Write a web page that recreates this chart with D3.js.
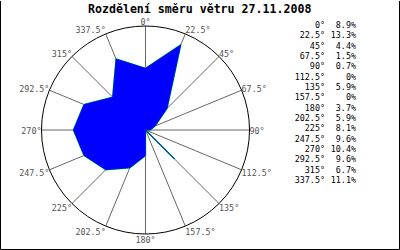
<!DOCTYPE html>
<html>
<head>
<meta charset="utf-8">
<script src="https://cdnjs.cloudflare.com/ajax/libs/d3/7.8.5/d3.min.js"></script>
<style>
  body { margin: 0; background: #fff; }
  svg { display: block; }
</style>
</head>
<body>
<div id="chart-area"></div>
<script>
//////////////////////////////////////////////
// Data //////////////////////////////////////
//////////////////////////////////////////////
var title = "Rozdělení směru větru 27.11.2008";

// wind direction (degrees) and share (%)
var angles = [0, 22.5, 45, 67.5, 90, 112.5, 135, 157.5,
              180, 202.5, 225, 247.5, 270, 292.5, 315, 337.5];
var shares = [8.9, 13.3, 4.4, 1.5, 0.7, 0, 5.9, 0,
              3.7, 5.9, 8.1, 9.6, 10.4, 9.6, 6.7, 11.1];
var shareLabels = ["8.9%", "13.3%", "4.4%", "1.5%", "0.7%", "0%", "5.9%", "0%",
                   "3.7%", "5.9%", "8.1%", "9.6%", "10.4%", "9.6%", "6.7%", "11.1%"];

var data = angles.map(function(a, i) {
    return {angle: a, share: shares[i], label: shareLabels[i]};
});

//////////////////////////////////////////////
// Chart Config //////////////////////////////
//////////////////////////////////////////////
var width = 400, height = 250;
var cx = 145.5, cy = 130, radius = 104;
var mono = "'DejaVu Sans Mono', 'Liberation Mono', monospace";

var rScale = d3.scaleLinear().domain([0, 15]).range([0, radius]);
var toRad = function(deg) { return deg * Math.PI / 180; };

var svg = d3.select("#chart-area")
    .append("svg")
        .attr("width", width)
        .attr("height", height);

svg.append("rect")
    .attr("width", width)
    .attr("height", height)
    .attr("fill", "#fff");

// frame (no top edge in the original)
svg.append("path")
    .attr("d", "M0.5,1 V249.5 H399.5 V1")
    .attr("fill", "none")
    .attr("stroke", "#000");

// title
svg.append("text")
    .attr("x", 199.7)
    .attr("y", 12.5)
    .attr("text-anchor", "middle")
    .style("font-family", mono)
    .style("font-weight", "bold")
    .style("font-size", "11.6px")
    .text(title);

var g = svg.append("g")
    .attr("transform", "translate(" + cx + "," + cy + ")");

//////////////////////////////////////////////
// Grid //////////////////////////////////////
//////////////////////////////////////////////
g.selectAll(".spoke")
    .data(angles)
    .enter().append("line")
        .attr("class", "spoke")
        .attr("x1", 0).attr("y1", 0)
        .attr("x2", function(a) { return Math.sin(toRad(a)) * radius; })
        .attr("y2", function(a) { return -Math.cos(toRad(a)) * radius; })
        .attr("stroke", "#666")
        .attr("stroke-width", 1);

g.append("circle")
    .attr("r", radius)
    .attr("fill", "none")
    .attr("stroke", "#000")
    .attr("stroke-width", 1);

//////////////////////////////////////////////
// Plot //////////////////////////////////////
//////////////////////////////////////////////
var radial = d3.lineRadial()
    .angle(function(d) { return toRad(d.angle); })
    .radius(function(d) { return rScale(d.share); })
    .curve(d3.curveLinearClosed);

g.append("path")
    .datum(data)
    .attr("d", radial)
    .attr("fill", "none")
    .attr("stroke", "#00ff00")
    .attr("stroke-width", 1.4);

g.append("path")
    .datum(data)
    .attr("d", radial)
    .attr("fill", "#0000ff")
    .attr("stroke", "#0000ff")
    .attr("stroke-width", 0.8);

// angle labels round the circle
g.selectAll(".alabel")
    .data(angles)
    .enter().append("text")
        .attr("class", "alabel")
        .attr("x", function(a) { return Math.sin(toRad(a)) * radius; })
        .attr("y", function(a) { return -Math.cos(toRad(a)) * radius - Math.cos(toRad(a)) * 5 + 3.8; })
        .attr("text-anchor", function(a) {
            if (a === 0 || a === 180) return "middle";
            return a < 180 ? "start" : "end";
        })
        .attr("fill", "#555")
        .style("font-family", mono)
        .style("font-size", "8.4px")
        .text(function(a) { return a + "°"; });

//////////////////////////////////////////////
// Legend ////////////////////////////////////
//////////////////////////////////////////////
var legend = svg.append("g")
    .style("font-family", mono)
    .style("font-size", "8.4px")
    .attr("fill", "#000");

var rowY = d3.scaleLinear().domain([0, 15]).range([28, 183]);

legend.selectAll(".lang")
    .data(data)
    .enter().append("text")
        .attr("x", 325)
        .attr("y", function(d, i) { return rowY(i); })
        .attr("text-anchor", "end")
        .text(function(d) { return d.angle + "°"; });

legend.selectAll(".lval")
    .data(data)
    .enter().append("text")
        .attr("x", 356)
        .attr("y", function(d, i) { return rowY(i); })
        .attr("text-anchor", "end")
        .text(function(d) { return d.label; });
</script>
</body>
</html>
